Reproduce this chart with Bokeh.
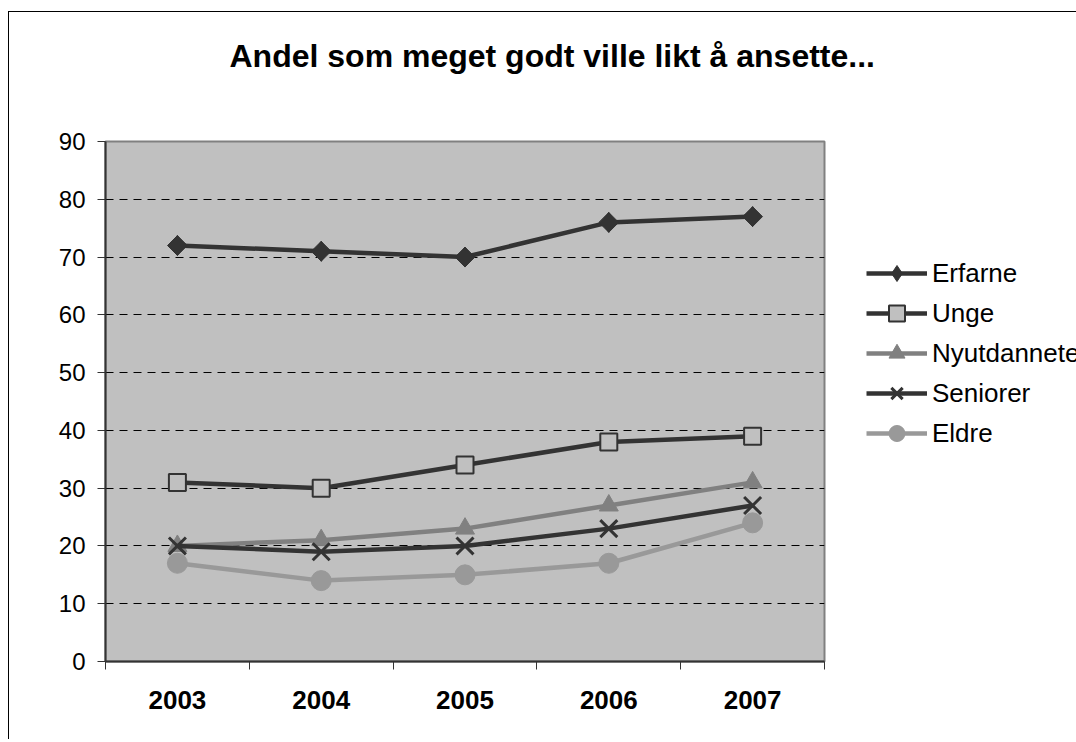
from bokeh.plotting import figure
from bokeh.models import FixedTicker, Range1d, Legend, LegendItem
from bokeh.embed import file_html
from bokeh.resources import INLINE
import math

years = ["2003", "2004", "2005", "2006", "2007"]
erfarne = [72, 71, 70, 76, 77]
unge = [31, 30, 34, 38, 39]
nyutdannete = [20, 21, 23, 27, 31]
seniorer = [20, 19, 20, 23, 27]
eldre = [17, 14, 15, 17, 24]
y_ticks = [0, 10, 20, 30, 40, 50, 60, 70, 80, 90]
title_text = "Andel som meget godt ville likt å ansette..."

FONT = "Liberation Sans"
xs = [i + 0.5 for i in range(len(years))]

p = figure(frame_width=719, frame_height=520,
           min_border_left=105, min_border_top=141,
           min_border_right=252, min_border_bottom=78,
           x_range=Range1d(0, len(years)), y_range=Range1d(0, 90),
           output_backend="svg", toolbar_location=None,
           background_fill_color="#C0C0C0",
           border_fill_color="white", border_fill_alpha=0,
           outline_line_color="#808080", outline_line_width=2)

# thin chart-area border (left and top edges) drawn behind the transparent canvas
p.styles = {
    "background": ("linear-gradient(#000, #000) 8px 11px / 1px calc(100% - 11px) no-repeat, "
                   "linear-gradient(#000, #000) 8px 11px / calc(100% - 8px) 1px no-repeat, "
                   "#ffffff"),
}

# trailing newline keeps the title well above the plot area
p.title.text = title_text + "\n"
p.title.text_font = FONT
p.title.text_font_style = "bold"
p.title.text_font_size = "32px"
p.title.align = "left"
p.title.offset = 124
p.title.standoff = 64
p.title.text_color = "black"

xa = p.xaxis[0]
xa.ticker = FixedTicker(ticks=xs, minor_ticks=list(range(len(years) + 1)))
xa.major_label_overrides = {x: y for x, y in zip(xs, years)}
xa.major_tick_out = 0
xa.major_tick_in = 0
xa.minor_tick_out = 8
xa.minor_tick_in = 0
xa.minor_tick_line_color = "#333333"
xa.axis_line_color = "#333333"
xa.axis_line_width = 2
xa.major_label_text_font = FONT
xa.major_label_text_font_style = "bold"
xa.major_label_text_font_size = "26px"
xa.major_label_text_color = "black"
xa.major_label_standoff = 21

ya = p.yaxis[0]
ya.ticker = FixedTicker(ticks=y_ticks, minor_ticks=[])
ya.major_tick_out = 8
ya.major_tick_in = 0
ya.major_tick_line_color = "#333333"
ya.minor_tick_line_color = None
ya.axis_line_color = "#333333"
ya.axis_line_width = 2
ya.major_label_text_font = FONT
ya.major_label_text_font_size = "24px"
ya.major_label_text_color = "black"
ya.major_label_standoff = 12

p.xgrid.visible = False
p.ygrid.ticker = FixedTicker(ticks=y_ticks[1:-1], minor_ticks=[])
p.ygrid.grid_line_color = "black"
p.ygrid.grid_line_dash = "8 6"
p.ygrid.grid_line_width = 1

series = [
    ("Erfarne", erfarne, "#333333", "diamond", "#333333", "#333333", 20, 1),
    ("Unge", unge, "#333333", "square", "#C0C0C0", "#333333", 17, 2),
    ("Nyutdannete", nyutdannete, "#808080", "triangle", "#808080", "#808080", 19, 1),
    ("Seniorer", seniorer, "#333333", "x", "#333333", "#333333", 24, 3),
    ("Eldre", eldre, "#999999", "circle", "#999999", "#999999", 20, 1),
]

items = []
for name, vals, lc, marker, fc, mlc, size, mlw in series:
    l = p.line(xs, vals, line_color=lc, line_width=4.5)
    s = p.scatter(xs, vals, marker=marker, size=size, fill_color=fc,
                  line_color=mlc, line_width=mlw)
    if name == "Erfarne":
        # wider diamond face in the plot (square turned 45 degrees)
        p.scatter(xs, vals, marker="square", size=14, angle=math.pi / 4,
                  fill_color=fc, line_color=mlc, line_width=mlw)
    items.append(LegendItem(label=name, renderers=[l, s]))

legend = Legend(items=items, location=(42, 208), padding=0, margin=0,
                glyph_width=61, glyph_height=40, spacing=0,
                label_standoff=5, label_text_font=FONT,
                label_text_font_size="26px", label_text_color="black",
                border_line_color=None, background_fill_alpha=0)
p.add_layout(legend, "right")

open("out.html", "w").write(file_html(p, INLINE))
